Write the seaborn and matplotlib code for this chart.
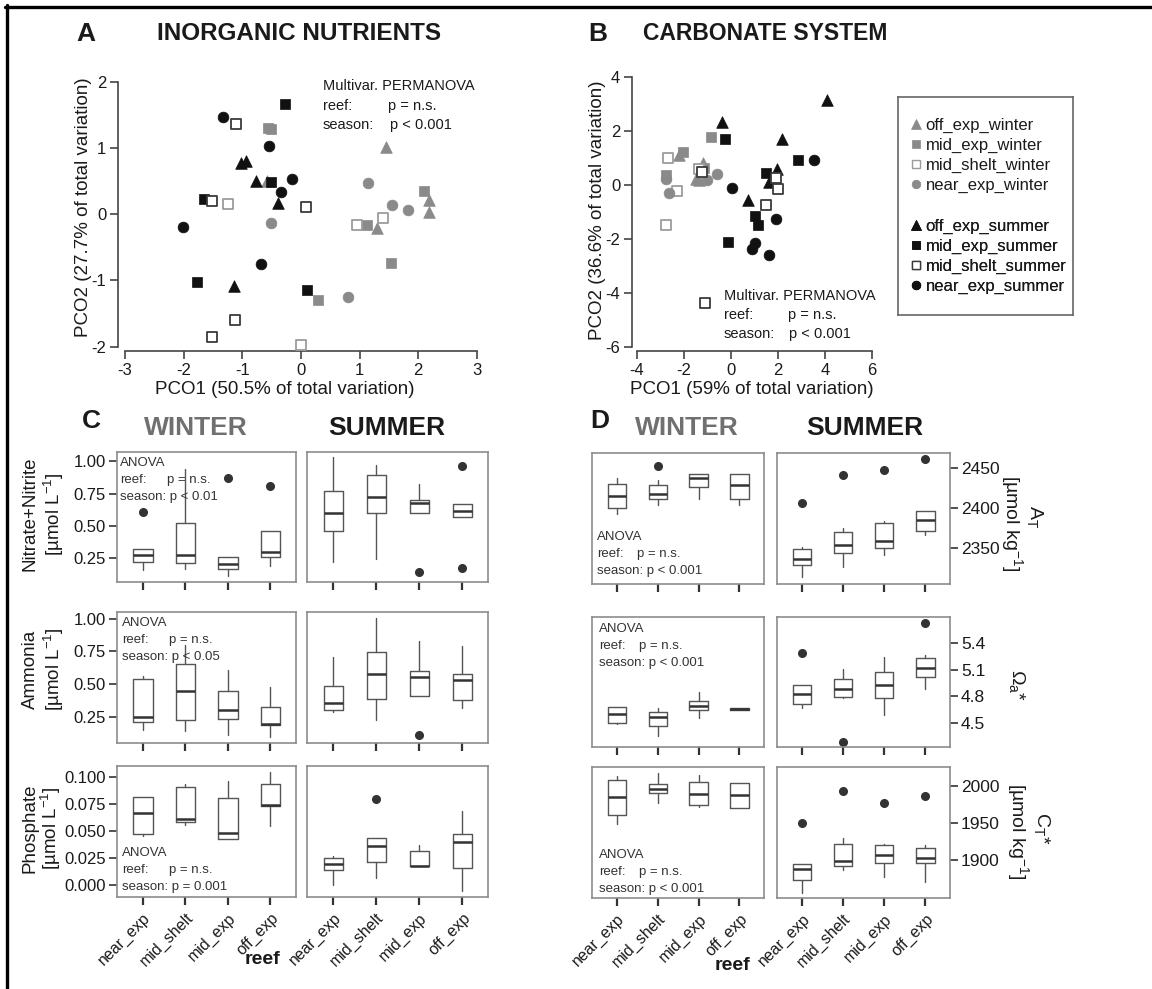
import numpy as np
import pandas as pd
import matplotlib
matplotlib.use("Agg")
import matplotlib.pyplot as plt
import seaborn as sns
from matplotlib.lines import Line2D

# ---------------------------------------------------------------- data
groups = ["off_exp_winter", "mid_exp_winter", "mid_shelt_winter", "near_exp_winter",
          "off_exp_summer", "mid_exp_summer", "mid_shelt_summer", "near_exp_summer"]
reefs = ["near_exp", "mid_shelt", "mid_exp", "off_exp"]

# Panel A  (PCO, inorganic nutrients)
a_off_w_x = [1.45, 2.19, 2.19, 1.30, -0.58]
a_off_w_y = [1.02, 0.21, 0.04, -0.21, 0.50]
a_mid_w_x = [-0.56, -0.52, 2.09, 1.13, 1.54, 0.29]
a_mid_w_y = [1.30, 1.28, 0.355, -0.16, -0.73, -1.30]
a_shelt_w_x = [-1.24, 0.00, 0.95, 1.40]
a_shelt_w_y = [0.15, -1.97, -0.16, -0.05]
a_near_w_x = [1.14, 1.55, 1.82, -0.52, 0.80]
a_near_w_y = [0.47, 0.14, 0.06, -0.14, -1.25]
a_off_s_x = [-1.02, -0.93, -0.77, -0.395, -1.15]
a_off_s_y = [0.77, 0.80, 0.50, 0.17, -1.08]
a_mid_s_x = [-0.28, -0.51, -1.66, -1.78, 0.11]
a_mid_s_y = [1.66, 0.48, 0.23, -1.03, -1.15]
a_shelt_s_x = [-1.11, -1.51, 0.09, -1.13, -1.51]
a_shelt_s_y = [1.36, 0.20, 0.11, -1.60, -1.86]
a_near_s_x = [-1.33, -0.55, -0.15, -0.34, -2.01, -0.69]
a_near_s_y = [1.46, 1.03, 0.53, 0.33, -0.19, -0.75]

# Panel B  (PCO, carbonate system)
b_off_w_x = [-2.19, -1.21, -1.37, -1.50]
b_off_w_y = [1.12, 0.81, 0.19, 0.24]
b_mid_w_x = [-0.87, -2.06, -2.75, -1.13]
b_mid_w_y = [1.77, 1.24, 0.36, 0.64]
b_shelt_w_x = [-2.67, -1.37, -2.31, -2.78]
b_shelt_w_y = [0.99, 0.59, -0.21, -1.48]
b_near_w_x = [-2.78, -2.63, -1.02, -0.60]
b_near_w_y = [0.21, -0.31, 0.19, 0.40]
b_off_s_x = [4.08, -0.37, 2.17, 1.95, 1.61, 0.71]
b_off_s_y = [3.16, 2.33, 1.70, 0.60, 0.125, -0.56]
b_mid_s_x = [-0.27, 2.86, 1.47, 1.01, 1.13, -0.12]
b_mid_s_y = [1.72, 0.93, 0.46, -1.15, -1.48, -2.10]
b_shelt_s_x = [1.91, 1.985, 1.51, -1.12, -1.25]
b_shelt_s_y = [0.25, -0.15, -0.74, -4.39, 0.47]
b_near_s_x = [3.52, 0.04, 1.91, 1.01, 0.88, 1.61]
b_near_s_y = [0.93, -0.11, -1.27, -2.16, -2.38, -2.60]

# Box summaries per reef: [whisker low, Q1, median, Q3, whisker high]
nit_w = [[0.155, 0.22, 0.27, 0.32, 0.32], [0.165, 0.21, 0.27, 0.52, 0.94],
         [0.11, 0.167, 0.206, 0.26, 0.26], [0.185, 0.257, 0.30, 0.46, 0.46]]
nit_w_out = [[0.61], [], [0.87], [0.81]]
nit_s = [[0.22, 0.46, 0.60, 0.77, 1.03], [0.24, 0.60, 0.72, 0.89, 0.97],
         [0.60, 0.60, 0.68, 0.70, 0.82], [0.57, 0.57, 0.617, 0.666, 0.666]]
nit_s_out = [[], [], [0.14], [0.96, 0.17]]

amm_w = [[0.15, 0.21, 0.25, 0.54, 0.56], [0.146, 0.23, 0.446, 0.657, 0.80],
         [0.115, 0.237, 0.30, 0.446, 0.606], [0.097, 0.19, 0.20, 0.326, 0.48]]
amm_w_out = [[], [], [], []]
amm_s = [[0.285, 0.30, 0.357, 0.484, 0.71], [0.225, 0.39, 0.58, 0.743, 1.005],
         [0.41, 0.41, 0.555, 0.60, 0.827], [0.32, 0.377, 0.53, 0.578, 0.79]]
amm_s_out = [[], [], [0.11], []]

pho_w = [[0.0452, 0.0477, 0.0668, 0.0815, 0.0815], [0.0554, 0.0585, 0.061, 0.0908, 0.0932],
         [0.043, 0.043, 0.0483, 0.0806, 0.096], [0.0545, 0.0729, 0.0738, 0.0932, 0.1046]]
pho_w_out = [[], [], [], []]
pho_s = [[0.0, 0.0138, 0.020, 0.0252, 0.0268], [0.0068, 0.0215, 0.0363, 0.044, 0.044],
         [0.0175, 0.0175, 0.018, 0.0317, 0.0375], [-0.0055, 0.0163, 0.040, 0.0477, 0.0683]]
pho_s_out = [[], [0.080], [], []]

at_w = [[2392.4, 2400.0, 2415.0, 2429.4, 2437.7], [2403.5, 2411.7, 2417.9, 2428.2, 2435.2],
        [2411.7, 2426.1, 2437.2, 2442.6, 2442.6], [2403.5, 2410.9, 2428.2, 2442.6, 2442.6]]
at_w_out = [[], [2451.6], [], []]
at_s = [[2315.0, 2329.4, 2336.8, 2348.8, 2352.0], [2326.5, 2343.8, 2354.1, 2370.6, 2374.7],
        [2341.8, 2350.0, 2359.5, 2380.9, 2384.2], [2366.5, 2371.4, 2385.0, 2396.5, 2396.5]]
at_s_out = [[2406.4], [2441.4], [2446.7], [2461.0]]

om_w = [[4.493, 4.50, 4.604, 4.686, 4.686], [4.359, 4.463, 4.564, 4.62, 4.668],
        [4.556, 4.649, 4.694, 4.753, 4.853], [4.645, 4.645, 4.66, 4.675, 4.675]]
om_w_out = [[], [], [], []]
om_s = [[4.675, 4.716, 4.827, 4.924, 4.924], [4.779, 4.798, 4.883, 4.991, 5.103],
        [4.593, 4.787, 4.928, 5.073, 5.244], [4.88, 5.013, 5.114, 5.236, 5.262]]
om_s_out = [[5.288], [4.285], [], [5.623]]

ct_w = [[1949.5, 1960.8, 1985.6, 2008.1, 2013.5], [1977.5, 1991.4, 1996.8, 2002.7, 2018.5],
        [1972.1, 1974.3, 1990.1, 2005.9, 2014.9], [1970.7, 1970.7, 1988.7, 2005.0, 2005.0]]
ct_w_out = [[], [], [], []]
ct_s = [[1855.9, 1873.9, 1888.3, 1894.6, 1894.6], [1887.4, 1892.8, 1899.1, 1922.5, 1930.6],
        [1877.5, 1896.4, 1906.8, 1920.3, 1922.5], [1870.7, 1896.4, 1903.2, 1917.1, 1920.3]]
ct_s_out = [[1950.5], [1993.2], [1977.5], [1986.9]]

# ---------------------------------------------------------------- style
sns.set_style("ticks")
plt.rcParams["font.family"] = ["Liberation Sans", "DejaVu Sans"]
plt.rcParams["mathtext.fontset"] = "custom"
plt.rcParams["mathtext.rm"] = "Liberation Sans"
plt.rcParams["mathtext.it"] = "Liberation Sans:italic"
plt.rcParams["mathtext.bf"] = "Liberation Sans:bold"
plt.rcParams["axes.unicode_minus"] = False

GREY = "#8a8a8a"
BLACK = "#111111"
TXT = "#1a1a1a"

W, H = 1152, 989
fig = plt.figure(figsize=(W / 100, H / 100), dpi=100)


def px_axes(l, t, r, b):
    return fig.add_axes([l / W, 1 - b / H, (r - l) / W, (b - t) / H])


def ftext(x, y, s, **kw):
    kw.setdefault("color", TXT)
    return fig.text(x / W, 1 - y / H, s, **kw)


# frame lines (top and left) of the original figure
fig.add_artist(Line2D([5 / W, 1], [1 - 6.5 / H, 1 - 6.5 / H], color="black", lw=2.4,
                      transform=fig.transFigure))
fig.add_artist(Line2D([6.5 / W, 6.5 / W], [0, 1 - 5 / H], color="black", lw=2.4,
                      transform=fig.transFigure))

styles = {
    "off_exp_winter": dict(marker="^", face=GREY, edge=GREY, s=70, lw=0.5),
    "mid_exp_winter": dict(marker="s", face=GREY, edge=GREY, s=50, lw=0.5),
    "mid_shelt_winter": dict(marker="s", face="white", edge="#9c9c9c", s=44, lw=1.3),
    "near_exp_winter": dict(marker="o", face=GREY, edge=GREY, s=60, lw=0.5),
    "off_exp_summer": dict(marker="^", face=BLACK, edge=BLACK, s=70, lw=0.5),
    "mid_exp_summer": dict(marker="s", face=BLACK, edge=BLACK, s=50, lw=0.5),
    "mid_shelt_summer": dict(marker="s", face="white", edge="#3a3a3a", s=44, lw=1.3),
    "near_exp_summer": dict(marker="o", face=BLACK, edge=BLACK, s=60, lw=0.5),
}


def pco_frame(xs, ys):
    rows = []
    for g, (x, y) in zip(groups, zip(xs, ys)):
        rows.append(pd.DataFrame({"x": x, "y": y, "group": g}))
    return pd.concat(rows, ignore_index=True)


df_a = pco_frame([a_off_w_x, a_mid_w_x, a_shelt_w_x, a_near_w_x,
                  a_off_s_x, a_mid_s_x, a_shelt_s_x, a_near_s_x],
                 [a_off_w_y, a_mid_w_y, a_shelt_w_y, a_near_w_y,
                  a_off_s_y, a_mid_s_y, a_shelt_s_y, a_near_s_y])
df_b = pco_frame([b_off_w_x, b_mid_w_x, b_shelt_w_x, b_near_w_x,
                  b_off_s_x, b_mid_s_x, b_shelt_s_x, b_near_s_x],
                 [b_off_w_y, b_mid_w_y, b_shelt_w_y, b_near_w_y,
                  b_off_s_y, b_mid_s_y, b_shelt_s_y, b_near_s_y])


def pco_panel(ax, df, xlim, ylim, xticks, yticks):
    for g in groups:
        st = styles[g]
        sub = df[df["group"] == g]
        sns.scatterplot(data=sub, x="x", y="y", ax=ax, marker=st["marker"], s=st["s"],
                        color=st["face"], edgecolor=st["edge"], linewidth=st["lw"],
                        legend=False, zorder=3)
    ax.set_xlim(*xlim)
    ax.set_ylim(*ylim)
    ax.set_xticks(xticks)
    ax.set_yticks(yticks)
    ax.set_xticklabels([str(v) for v in xticks])
    ax.set_yticklabels([str(v) for v in yticks])
    ax.set_xlabel("")
    ax.set_ylabel("")
    sns.despine(ax=ax, trim=True)
    for sp in ("left", "bottom"):
        ax.spines[sp].set_color("#444444")
        ax.spines[sp].set_linewidth(1.2)
    ax.tick_params(length=6, width=1.2, color="#444444", labelsize=12,
                   labelcolor=TXT, pad=2.5)


# ---------------- Panel A
axA = px_axes(118, 77.4, 484, 351)
pco_panel(axA, df_a, (-3.12, 3.12), (-2.065, 2.065), [-3, -2, -1, 0, 1, 2, 3],
          [-2, -1, 0, 1, 2])
ftext(86, 34, "A", fontsize=19, fontweight="bold", ha="center", va="center")
ftext(299, 34, "INORGANIC NUTRIENTS", fontsize=17.5, fontweight="bold", ha="center",
      va="center")
ftext(285, 389, "PCO1 (50.5% of total variation)", fontsize=13.5, ha="center",
      va="center")
ftext(83, 207, "PCO2 (27.7% of total variation)", fontsize=13.5, ha="center",
      va="center", rotation=90)
ftext(323, 86, "Multivar. PERMANOVA", fontsize=10.5, va="center")
ftext(323, 106, "reef:", fontsize=10.5, va="center")
ftext(388, 106, "p = n.s.", fontsize=10.5, va="center")
ftext(323, 125, "season:", fontsize=10.5, va="center")
ftext(390, 125, "p < 0.001", fontsize=10.5, va="center")

# ---------------- Panel B
axB = px_axes(632, 73, 877, 351)
pco_panel(axB, df_b, (-4.21, 6.21), (-6.16, 4.16), [-4, -2, 0, 2, 4, 6],
          [-6, -4, -2, 0, 2, 4])
ftext(598, 34, "B", fontsize=19, fontweight="bold", ha="center", va="center")
ftext(765, 34, "CARBONATE SYSTEM", fontsize=16.5, fontweight="bold", ha="center",
      va="center")
ftext(752, 389, "PCO1 (59% of total variation)", fontsize=13.5, ha="center",
      va="center")
ftext(597, 210, "PCO2 (36.6% of total variation)", fontsize=13.5, ha="center",
      va="center", rotation=90)
ftext(724, 296, "Multivar. PERMANOVA", fontsize=10.5, va="center")
ftext(724, 315, "reef:", fontsize=10.5, va="center")
ftext(788, 315, "p = n.s.", fontsize=10.5, va="center")
ftext(724, 334, "season:", fontsize=10.5, va="center")
ftext(789, 334, "p < 0.001", fontsize=10.5, va="center")

# ---------------- Legend
LX0, LY0, LX1, LY1 = 898, 97, 1073, 315
axL = px_axes(LX0, LY0, LX1, LY1)
axL.set_xticks([])
axL.set_yticks([])
for sp in axL.spines.values():
    sp.set_visible(True)
    sp.set_color("#666666")
    sp.set_linewidth(1.2)


def handle(g):
    st = styles[g]
    ms = {"^": 7.0, "s": 5.6, "o": 6.2}[st["marker"]]
    return Line2D([], [], ls="none", marker=st["marker"], markersize=ms,
                  markerfacecolor=st["face"], markeredgecolor=st["edge"],
                  markeredgewidth=1.0 if st["face"] == "white" else 0.5)


for gs, yc in ((groups[:4], 155.5), (groups[4:], 256.5)):
    leg = axL.legend([handle(g) for g in gs], gs, loc="center left",
                     bbox_to_anchor=((909 - LX0) / (LX1 - LX0),
                                     1 - (yc - LY0) / (LY1 - LY0)),
                     frameon=False, fontsize=12, handlelength=0.8, handletextpad=0.2,
                     labelspacing=0.3, borderpad=0, borderaxespad=0)
    for t in leg.get_texts():
        t.set_color(TXT)
    axL.add_artist(leg)


# ---------------- box panels
def box_panel(ax, summ, outs, ylim):
    stats = []
    for (lo, q1, med, q3, hi), fl in zip(summ, outs):
        stats.append(dict(whislo=lo, q1=q1, med=med, q3=q3, whishi=hi, fliers=fl))
    ax.bxp(stats, positions=np.arange(len(reefs)), widths=0.45, showcaps=False,
           manage_ticks=False,
           boxprops=dict(color="#555555", lw=1.0),
           whiskerprops=dict(color="#555555", lw=1.0),
           medianprops=dict(color="#333333", lw=1.8),
           flierprops=dict(marker="o", markerfacecolor="#333333",
                           markeredgecolor="#333333", markersize=5.5))
    ax.set_xlim(-0.61, 3.6)
    ax.set_ylim(*ylim)
    ax.set_xticks(np.arange(len(reefs)))
    for sp in ax.spines.values():
        sp.set_visible(True)
        sp.set_color("#8c8c8c")
        sp.set_linewidth(1.2)
    ax.tick_params(axis="x", length=6, width=1.6, color="#333333", labelsize=11.5,
                   labelcolor=TXT)
    ax.tick_params(axis="y", length=6, width=1.2, color="#333333", labelsize=12,
                   labelcolor=TXT, pad=2)


def anova(x, y, dx, line3):
    ftext(x, y, "ANOVA", fontsize=9.5, va="center", color="#333333")
    ftext(x, y + 17, "reef:", fontsize=9.5, va="center", color="#333333")
    ftext(x + dx, y + 17, "p = n.s.", fontsize=9.5, va="center", color="#333333")
    ftext(x, y + 34, line3, fontsize=9.5, va="center", color="#333333")


c_rows = [
    (nit_w, nit_w_out, nit_s, nit_s_out, (0.064, 1.072), [0.25, 0.50, 0.75, 1.00],
     ["0.25", "0.50", "0.75", "1.00"], "Nitrate+Nitrite", (452, 582), 514,
     (120, 463, "season: p < 0.01")),
    (amm_w, amm_w_out, amm_s, amm_s_out, (0.052, 1.051), [0.25, 0.50, 0.75, 1.00],
     ["0.25", "0.50", "0.75", "1.00"], "Ammonia", (612, 743), 669,
     (122, 623, "season: p < 0.05")),
    (pho_w, pho_w_out, pho_s, pho_s_out, (-0.0108, 0.110),
     [0.0, 0.025, 0.05, 0.075, 0.1], ["0.000", "0.025", "0.050", "0.075", "0.100"],
     "Phosphate", (766, 897), 828, (122, 853, "season: p = 0.001")),
]

for i, (sw, ow, ss, os_, ylim, yt, ytl, lab, (top, bot), yc, an) in enumerate(c_rows):
    axw = px_axes(117, top, 296, bot)
    axs = px_axes(307, top, 488, bot)
    box_panel(axw, sw, ow, ylim)
    box_panel(axs, ss, os_, ylim)
    axw.set_yticks(yt)
    axw.set_yticklabels(ytl)
    axs.set_yticks([])
    for a in (axw, axs):
        if i == 2:
            a.set_xticklabels(reefs, rotation=45, ha="right", rotation_mode="anchor")
        else:
            a.set_xticklabels([])
    ftext(30, yc, lab, fontsize=13.5, rotation=90, ha="center", va="center")
    # second line: shift left where the tick labels are wide (0.100 etc.)
    x2 = 51 if i == 2 else 54
    ftext(x2, yc, r"[µmol L$^{-1}$]", fontsize=13.5, rotation=90, ha="center",
          va="center")
    anova(an[0], an[1], 47, an[2])

d_rows = [
    (at_w, at_w_out, at_s, at_s_out, (2306, 2468), [2350, 2400, 2450],
     r"A$_\mathrm{T}$", (453, 584), (1035, 517), (1012, 523),
     (597, 537, "season: p < 0.001")),
    (om_w, om_w_out, om_s, om_s_out, (4.233, 5.69), [4.5, 4.8, 5.1, 5.4],
     r"$\Omega_\mathrm{a}$*", (617, 747), (1017, 685), None,
     (599, 629, "season: p < 0.001")),
    (ct_w, ct_w_out, ct_s, ct_s_out, (1849, 2026), [1900, 1950, 2000],
     r"C$_\mathrm{T}$*", (767, 898), (1042, 828), (1018, 831),
     (599, 855, "season: p < 0.001")),
]

for i, (sw, ow, ss, os_, ylim, yt, lab, (top, bot), l1, l2, an) in enumerate(d_rows):
    axw = px_axes(592, top, 764, bot)
    axs = px_axes(777, top, 950, bot)
    box_panel(axw, sw, ow, ylim)
    box_panel(axs, ss, os_, ylim)
    axw.set_yticks([])
    axs.set_yticks(yt)
    axs.set_yticklabels([str(v) for v in yt])
    axs.yaxis.tick_right()
    axs.tick_params(axis="y", length=6, width=1.2, color="#333333", labelsize=12.5,
                    labelcolor=TXT, pad=2)
    for a in (axw, axs):
        if i == 2:
            a.set_xticklabels(reefs, rotation=45, ha="right", rotation_mode="anchor")
        else:
            a.set_xticklabels([])
    ftext(l1[0], l1[1], lab, fontsize=14, rotation=270, ha="center", va="center")
    if l2 is not None:
        ftext(l2[0], l2[1], r"[µmol kg$^{-1}$]", fontsize=14, rotation=270,
              ha="center", va="center")
    anova(an[0], an[1], 40, an[2])

# titles of C and D
ftext(91, 421, "C", fontsize=19, fontweight="bold", ha="center", va="center")
ftext(196, 428, "WINTER", fontsize=19, fontweight="bold", ha="center", va="center",
      color="#707070")
ftext(387, 428, "SUMMER", fontsize=19, fontweight="bold", ha="center", va="center")
ftext(600, 421, "D", fontsize=19, fontweight="bold", ha="center", va="center")
ftext(687, 428, "WINTER", fontsize=19, fontweight="bold", ha="center", va="center",
      color="#707070")
ftext(865, 428, "SUMMER", fontsize=19, fontweight="bold", ha="center", va="center")

ftext(262, 960, "reef", fontsize=14, fontweight="bold", ha="center", va="center")
ftext(732, 966, "reef", fontsize=14, fontweight="bold", ha="center", va="center")

fig.savefig("out.png", dpi=100, facecolor="white")
